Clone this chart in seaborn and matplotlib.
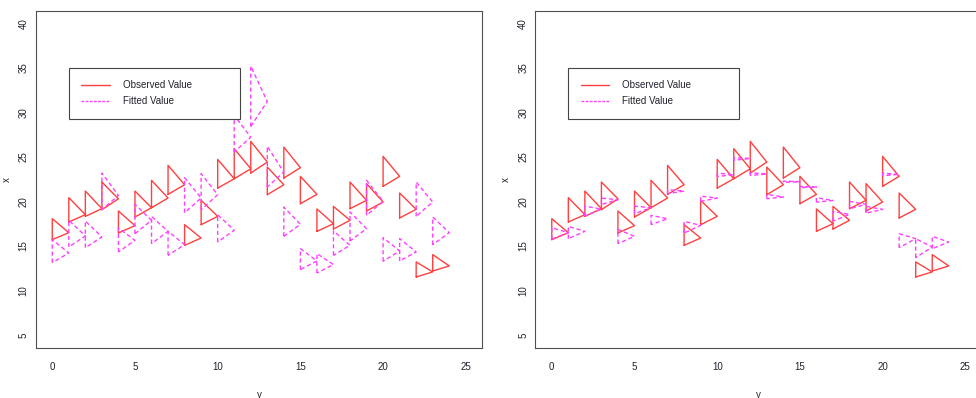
import pandas as pd
import seaborn as sns
import matplotlib.pyplot as plt
from matplotlib.lines import Line2D

# time steps (one triangle per step)
steps = list(range(24))

# observed value triangles (same in both panels): low corner, high corner, tip
obs_lo = [15.72, 17.70, 18.33, 19.08, 16.47, 18.26, 19.30, 20.80, 15.08, 17.40, 21.50, 22.55,
          23.19, 20.76, 22.63, 19.75, 16.65, 16.91, 19.19, 18.93, 21.70, 18.15, 11.53, 12.20]
obs_hi = [18.07, 20.43, 21.17, 22.18, 18.93, 21.17, 22.37, 24.05, 17.40, 20.13, 24.72, 25.92,
          26.74, 23.86, 26.10, 22.82, 19.16, 19.45, 22.18, 22.00, 25.06, 20.95, 13.22, 14.04]
obs_tip = [16.50, 18.52, 19.20, 20.30, 17.29, 19.30, 20.39, 21.88, 15.90, 18.33, 22.55, 23.67,
           24.42, 21.88, 23.79, 20.80, 17.51, 17.89, 20.13, 19.94, 22.82, 19.12, 12.10, 12.77]

# fitted value triangles, left panel
fit1_lo = [13.14, 14.90, 14.82, 19.08, 14.34, 16.39, 15.27, 13.96, 18.74, 19.08, 15.46, 25.54,
           28.42, 21.62, 16.09, 12.36, 11.98, 13.96, 15.57, 18.45, 13.29, 13.33, 18.33, 15.16]
fit1_hi = [15.72, 17.89, 17.81, 23.19, 17.03, 19.68, 18.33, 16.65, 22.67, 23.12, 18.52, 29.65,
           35.18, 26.18, 19.38, 14.71, 14.15, 16.69, 18.82, 22.37, 15.94, 15.83, 22.18, 18.26]
fit1_tip = [14.22, 16.13, 16.02, 20.69, 15.64, 17.89, 16.65, 15.16, 20.39, 20.76, 16.77, 27.22,
            31.22, 23.30, 17.44, 13.33, 12.92, 15.08, 16.95, 20.01, 14.45, 14.34, 19.94, 16.50]

# fitted value triangles, right panel
fit2_lo = [15.78, 15.83, 18.36, 19.67, 15.27, 18.63, 17.40, 20.87, 16.46, 20.01, 22.81, 24.61,
           22.93, 20.31, 22.14, 21.55, 19.93, 17.80, 19.19, 18.70, 22.89, 14.82, 13.70, 14.71]
fit2_hi = [17.06, 17.21, 19.48, 20.38, 16.87, 19.48, 18.44, 21.32, 17.77, 20.60, 23.18, 24.91,
           23.23, 20.80, 22.29, 21.69, 20.42, 18.89, 20.01, 19.45, 23.18, 16.39, 15.83, 16.09]
fit2_tip = [16.50, 16.65, 19.15, 20.20, 16.09, 19.30, 18.07, 21.17, 17.32, 20.38, 23.00, 24.83,
            23.07, 20.50, 22.22, 21.62, 20.12, 18.55, 19.68, 19.11, 23.04, 15.83, 14.89, 15.45]

legend_labels = ["Observed Value", "Fitted Value"]

RED = "#ff4040"
MAGENTA = "#ff40ff"
DASH = (0, (3, 2))
TXT = "#22222e"


def triangles(lo, hi, tip):
    # each triangle: vertical edge at the step, tip one step to the right
    rows = []
    for i, s in enumerate(steps):
        for px, py in [(s, lo[i]), (s, hi[i]), (s + 1, tip[i]), (s, lo[i])]:
            rows.append({"tri": i, "px": px, "py": py})
    return pd.DataFrame(rows)


def draw_panel(ax, fit_lo, fit_hi, fit_tip):
    sns.lineplot(data=triangles(obs_lo, obs_hi, obs_tip), x="px", y="py", units="tri",
                 estimator=None, sort=False, color=RED, lw=1, ax=ax, legend=False)
    sns.lineplot(data=triangles(fit_lo, fit_hi, fit_tip), x="px", y="py", units="tri",
                 estimator=None, sort=False, color=MAGENTA, lw=1, linestyle=DASH,
                 ax=ax, legend=False)

    ax.set_xlim(-1, 26)
    ax.set_ylim(3.6, 41.4)
    ax.set_xticks(range(0, 26, 5))
    ax.set_yticks(range(5, 41, 5))
    ax.set_yticklabels([str(v) for v in range(5, 41, 5)], rotation=90, va="center")
    ax.tick_params(direction="out", length=4, width=0.8, color="#555555",
                   labelsize=7, labelcolor=TXT)
    ax.tick_params(axis="x", pad=6)
    ax.tick_params(axis="y", pad=1)
    for sp in ax.spines.values():
        sp.set_visible(True)
        sp.set_color("#505050")
        sp.set_linewidth(0.8)
    ax.set_xlabel("y", fontsize=7, color=TXT, labelpad=13)
    ax.set_ylabel("x", fontsize=7, color=TXT, labelpad=5)

    handles = [Line2D([], [], color=RED, lw=1),
               Line2D([], [], color=MAGENTA, lw=1, linestyle=(0, (2, 1)))]
    leg = ax.legend(handles, legend_labels, loc="upper left",
                    bbox_to_anchor=(1, 29.6, 10.34, 5.4), bbox_transform=ax.transData,
                    mode="expand", borderaxespad=0, frameon=True, fancybox=False,
                    framealpha=1, edgecolor="#444444", fontsize=7, handlelength=2.9,
                    handletextpad=1.35, borderpad=1.3, labelspacing=0.6)
    leg.get_frame().set_linewidth(0.8)
    for t in leg.get_texts():
        t.set_color(TXT)
    leg.set_zorder(10)


sns.set_style("white")
plt.rcParams["font.family"] = ["Liberation Sans", "DejaVu Sans"]

fig = plt.figure(figsize=(9.76, 3.98), dpi=100)
ax1 = fig.add_axes([0.0366, 0.1264, 0.4576, 0.8467])
ax2 = fig.add_axes([0.5484, 0.1264, 0.4576, 0.8467])

draw_panel(ax1, fit1_lo, fit1_hi, fit1_tip)
draw_panel(ax2, fit2_lo, fit2_hi, fit2_tip)

fig.savefig("out.png", dpi=100)
